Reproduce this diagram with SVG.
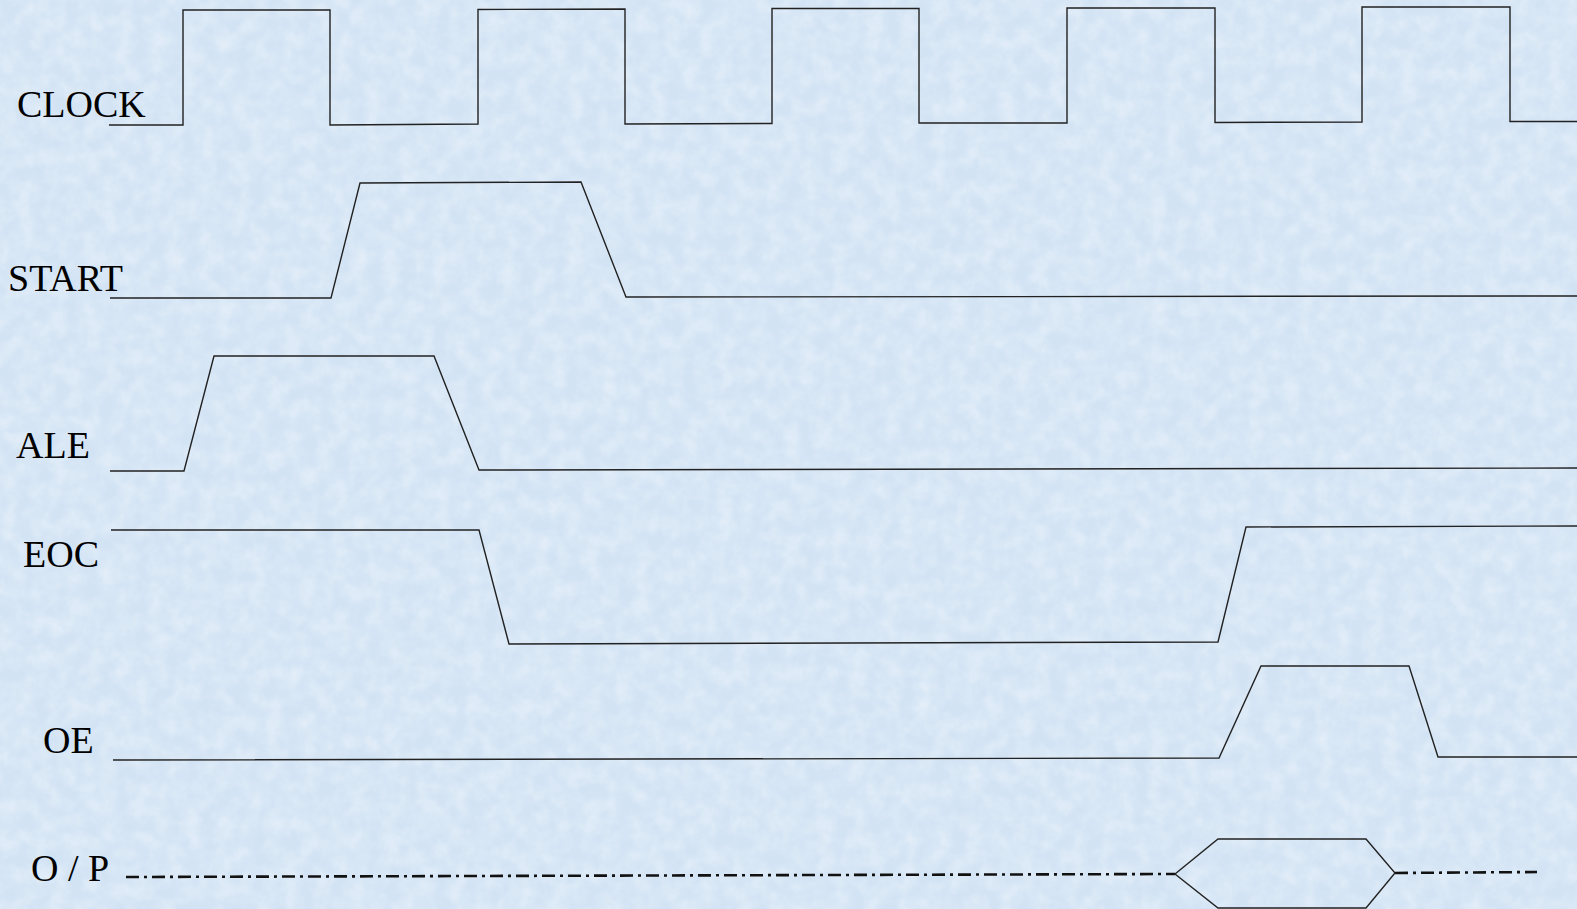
<svg xmlns="http://www.w3.org/2000/svg" width="1577" height="909" viewBox="0 0 1577 909">
  <defs>
    <style>
      .lbl { font-family: "Liberation Serif", "Times New Roman", serif; font-size: 38px; fill: #000; }
      .sig { fill: none; stroke: #222; stroke-width: 1.4; stroke-linejoin: miter; }
      .dd { fill: none; stroke: #111; stroke-width: 2.6; stroke-dasharray: 13 5 3 5; }
    </style>
    <filter id="tex" x="0" y="0" width="100%" height="100%">
      <feTurbulence type="fractalNoise" baseFrequency="0.06" numOctaves="3" seed="4" result="n"/>
      <feColorMatrix in="n" type="matrix" values="0 0 0 0 1  0 0 0 0 1  0 0 0 0 1  0 0 0 0.6 -0.18" result="w"/>
      <feComposite in="w" in2="SourceGraphic" operator="in"/>
    </filter>
  </defs>
  <rect width="1577" height="909" fill="#d2e3f4"/>
  <rect width="1577" height="909" fill="#d2e3f4" filter="url(#tex)"/>

  <g id="clock">
    <text class="lbl" x="17" y="117">CLOCK</text>
    <path class="sig" d="M109,125 L183,125 L183,10 L330,10 L330,125 L478,124 L478,9.5 L625,9 L625,124 L772,123.5 L772,8.5 L919,8.5 L919,123 L1067,123 L1067,8 L1215,8 L1215,122.5 L1362,122 L1362,7 L1510,7 L1510,121.5 L1577,121.5"/>
  </g>

  <g id="start">
    <text class="lbl" x="8" y="291">START</text>
    <path class="sig" d="M110,298 L331,298 L360,183 L581,182 L626,297 L1577,296"/>
  </g>

  <g id="ale">
    <text class="lbl" x="16" y="458">ALE</text>
    <path class="sig" d="M110,471 L184,471 L214,356 L434,356 L479,470 L1577,468"/>
  </g>

  <g id="eoc">
    <text class="lbl" x="23" y="567">EOC</text>
    <path class="sig" d="M111,530 L479,530 L509,644 L1218,642 L1246,527 L1577,526"/>
  </g>

  <g id="oe">
    <text class="lbl" x="43" y="753">OE</text>
    <path class="sig" d="M113,760 L1219,758 L1261,666 L1409,666 L1438,757 L1577,757"/>
  </g>

  <g id="op">
    <text class="lbl" x="31" y="881">O / P</text>
    <path class="dd" d="M126,877 L1175,874"/>
    <path class="dd" d="M1395,873 L1537,872"/>
    <path class="sig" d="M1175,874 L1218,839 L1366,839 L1395,873 L1366,908 L1218,908 Z"/>
  </g>
</svg>
